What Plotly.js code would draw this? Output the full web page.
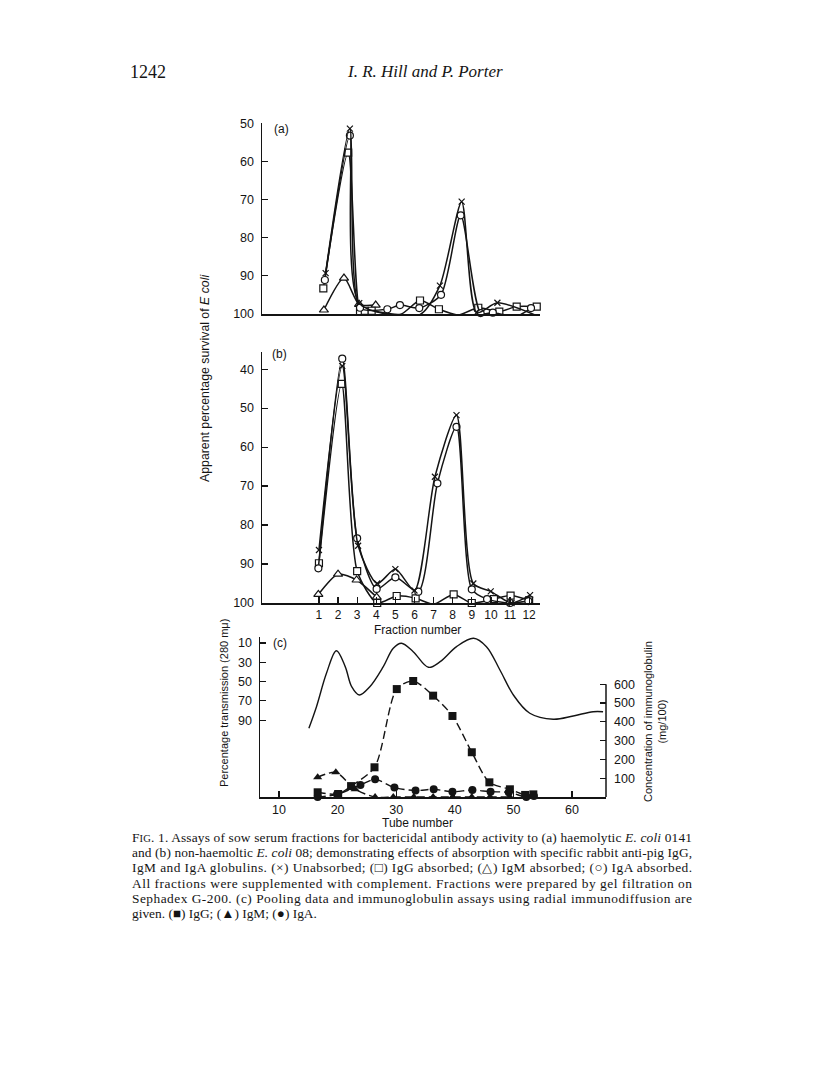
<!DOCTYPE html>
<html>
<head>
<meta charset="utf-8">
<script src="https://cdn.plot.ly/plotly-3.0.1.min.js"></script>
<style>
  body { margin: 0; background: #fff; }
  #fig { width: 816px; height: 1085px; }
</style>
</head>
<body>
<div id="fig"></div>
<script>
// ---- panel (a): haemolytic E. coli 0141, fraction number vs % survival
var aUnabsX = [1.35, 2.62, 3.11, 6.25, 7.33, 8.47, 9.25, 10.34, 12.4];
var aUnabsY = [89.4, 51.4, 97.3, 100.4, 92.7, 70.6, 99.8, 97.2, 100.6];
var aIgaX = [1.31, 2.62, 3.15, 4.58, 5.24, 6.25, 7.39, 8.42, 9.46, 10.1, 11.35, 12.1];
var aIgaY = [91.2, 53.2, 98.5, 98.9, 97.8, 98.6, 95.1, 74.2, 99.9, 99.8, 100.7, 98.6];
var aIggX = [1.23, 2.53, 3.15, 3.4, 3.76, 5.28, 6.29, 7.28, 8.3, 9.34, 10.44, 11.35, 12.4];
var aIggY = [93.4, 57.7, 99.5, 99.3, 99.3, 100.2, 96.6, 98.9, 100.4, 98.5, 99.5, 98.2, 98.2];
var aIgmX = [1.26, 2.31, 3.1, 3.97];
var aIgmY = [99.1, 90.7, 97.6, 97.8];

// ---- panel (b): non-haemolytic E. coli 08
var bUnabsX = [1.0, 2.22, 3.05, 4.05, 5.0, 6.0, 7.07, 8.2, 9.08, 9.99, 11.08, 12.05];
var bUnabsY = [86.4, 39.2, 85.3, 95, 91.3, 96.8, 67.6, 51.8, 95, 97, 100, 98];
var bIgaX = [0.97, 2.22, 3.0, 4.02, 5.0, 6.2, 7.2, 8.2, 9.0, 9.8, 11.0, 11.96];
var bIgaY = [91.1, 37.3, 83.4, 96.4, 93.4, 97.1, 69.3, 54.8, 96.5, 99, 100, 99.5];
var bIggX = [1.0, 2.19, 3.0, 4.05, 5.07, 6.06, 7.0, 8.05, 9.0, 10.16, 11.03, 12.0];
var bIggY = [89.8, 43.8, 91.8, 100, 98.2, 98.8, 100.3, 97.8, 100, 99, 98.1, 99.3];
var bIgmX = [0.97, 2.0, 2.97, 4.02];
var bIgmY = [97.8, 92.6, 94.1, 98.5];

// ---- panel (c): tube number, transmission (left) and immunoglobulin (right)
var tubeX = [15.1, 16.4, 18.1, 19.8, 21.3, 22.4, 23.7, 25.5, 27.8, 29.5, 30.9, 32.9, 35.5,
             37.5, 40.3, 43.2, 45.4, 47.7, 50, 52.8, 56.8, 60.2, 63.6, 65.3];
var transY = [98.4, 76, 41.4, 18, 34.5, 55.3, 63.9, 55.3, 34.5, 15.5, 10.3, 19, 35.2,
              29.4, 13.8, 5.1, 13.8, 38, 63.9, 82.8, 89, 85.6, 81.2, 81.2];
var iggX = [16.6, 20.1, 22.3, 26.3, 30.1, 32.9, 36.3, 39.6, 42.9, 45.9, 49.4, 52, 53.4];
var iggY = [25, 16, 58, 158, 574, 617, 539, 431, 238, 78, 41, 11, 14];
var igmX = [16.6, 19.7, 23, 26.4, 29.5, 33, 36.3, 39.6, 42.9, 46, 49.4];
var igmY = [105, 131, 41, 0, 0, 0, 0, 0, 0, 0, 0];
var igaX = [16.6, 19.9, 23.9, 26.4, 29.7, 33.3, 36.4, 39.6, 43, 46.1, 49.2, 52.2, 53.5];
var igaY = [0, 14, 64, 94, 50, 34, 41, 28, 37, 28, 25, 0, 5];

var fractionTicks = [1, 2, 3, 4, 5, 6, 7, 8, 9, 10, 11, 12];
var tubeTicks = [10, 20, 30, 40, 50, 60];

var ink = '#141414';
var W = 816, H = 1085;
function px(x) { return x / W; }
function py(y) { return 1 - y / H; }

function openSeries(x, y, sym, xa, ya, sz) {
  var cross = sym.indexOf('x-') === 0;
  return {
    x: x, y: y, xaxis: xa, yaxis: ya, type: 'scatter', mode: 'lines+markers',
    line: { color: ink, width: 1.5, shape: 'spline', smoothing: 0.7 },
    marker: { symbol: sym, size: sz || 7, color: cross ? ink : '#fff', line: { color: ink, width: 1.2 } },
    cliponaxis: false, showlegend: false, hoverinfo: 'skip'
  };
}
function filledSeries(x, y, sym, sz) {
  return {
    x: x, y: y, xaxis: 'x3', yaxis: 'y4', type: 'scatter', mode: 'lines+markers',
    line: { color: ink, width: 1.4, shape: 'spline', smoothing: 0.8, dash: '8px,4px' },
    marker: { symbol: sym, size: sz || 8, color: ink },
    cliponaxis: false, showlegend: false, hoverinfo: 'skip'
  };
}

var data = [
  openSeries(aIgmX, aIgmY, 'triangle-up', 'x', 'y', 8),
  openSeries(aIggX, aIggY, 'square', 'x', 'y'),
  openSeries(aIgaX, aIgaY, 'circle', 'x', 'y'),
  openSeries(aUnabsX, aUnabsY, 'x-thin-open', 'x', 'y', 6),

  openSeries(bIgmX, bIgmY, 'triangle-up', 'x2', 'y2', 8),
  openSeries(bIggX, bIggY, 'square', 'x2', 'y2'),
  openSeries(bIgaX, bIgaY, 'circle', 'x2', 'y2'),
  openSeries(bUnabsX, bUnabsY, 'x-thin-open', 'x2', 'y2', 6),

  {
    x: tubeX, y: transY, xaxis: 'x3', yaxis: 'y3', type: 'scatter', mode: 'lines',
    line: { color: ink, width: 1.4, shape: 'spline', smoothing: 1 },
    cliponaxis: false, showlegend: false, hoverinfo: 'skip'
  },
  filledSeries(igmX, igmY, 'triangle-up', 8),
  filledSeries(igaX, igaY, 'circle', 8),
  filledSeries(iggX, iggY, 'square', 8)
];

var tickFont = { family: 'Liberation Sans, Arial, sans-serif', size: 12.5, color: ink };
var baseAxis = {
  showgrid: false, zeroline: false, showline: true, linecolor: ink, linewidth: 1.5,
  ticks: 'inside', ticklen: 6, tickwidth: 1.2, tickcolor: ink, tickfont: tickFont,
  ticklabelstandoff: 4, fixedrange: true
};
function ax(o) { return Object.assign({}, baseAxis, o); }

var serif = 'Liberation Serif, Times New Roman, serif';
var sans = 'Liberation Sans, Arial, sans-serif';

function note(text, x, y, o) {
  return Object.assign({
    text: text, xref: 'paper', yref: 'paper', x: px(x), y: py(y),
    showarrow: false, xanchor: 'center', yanchor: 'middle',
    font: { family: sans, size: 12, color: ink }
  }, o || {});
}

var caption = [
  'F<span style="font-size:10.5px">IG</span>. 1. Assays of sow serum fractions for bactericidal antibody activity to (a) haemolytic <i>E. coli</i> 0141',
  'and (b) non-haemoltic <i>E. coli</i> 08; demonstrating effects of absorption with specific rabbit anti-pig IgG,',
  'IgM and IgA globulins. (\u00d7) Unabsorbed; (\u25a1) IgG absorbed; (\u25b3) IgM absorbed; (\u25cb) IgA absorbed.',
  'All fractions were supplemented with complement. Fractions were prepared by gel filtration on',
  'Sephadex G-200. (c) Pooling data and immunoglobulin assays using radial immunodiffusion are',
  'given. (\u25a0) IgG; (\u25b2) IgM; (\u25cf) IgA.'
];
var captionY = [837, 852, 867, 883, 898, 913];

var annotations = [
  note('1242', 128, 72, { xanchor: 'left', font: { family: serif, size: 18, color: ink } }),
  note('<i>I. R. Hill and P. Porter</i>', 425, 72, { font: { family: serif, size: 17, color: ink } }),
  note('(a)', 281, 129, { font: { family: sans, size: 12, color: ink } }),
  note('(b)', 279, 354, { font: { family: sans, size: 12, color: ink } }),
  note('(c)', 280, 643, { font: { family: sans, size: 12, color: ink } }),
  note('Apparent percentage survival of <i>E coli</i>', 205, 378, { textangle: -90, font: { family: sans, size: 12.3, color: ink } }),
  note('Fraction number', 418, 630, { font: { family: sans, size: 12, color: ink } }),
  note('Tube number', 418, 823, { font: { family: sans, size: 12, color: ink } }),
  note('Percentage transmission (280 m\u03bc)', 224, 703, { textangle: -90, font: { family: sans, size: 11, color: ink } }),
  note('Concentration of immunoglobulin<br>(mg/100)', 655, 722, { textangle: -90, font: { family: sans, size: 11, color: ink } })
];
var captionStart = annotations.length;
caption.forEach(function (t, i) {
  annotations.push(note(t, 130, captionY[i], { xanchor: 'left', align: 'left', font: { family: serif, size: 13.4, color: ink } }));
});

var layout = {
  width: W, height: H,
  margin: { l: 0, r: 0, t: 0, b: 0 },
  paper_bgcolor: '#fff', plot_bgcolor: 'rgba(0,0,0,0)',
  showlegend: false,
  xaxis: ax({ domain: [px(262), px(540)], range: [-1.98, 12.57], anchor: 'y', ticks: '', showticklabels: false }),
  yaxis: ax({ domain: [py(314), py(123)], range: [100.15, 49.9], anchor: 'x', tickvals: [50, 60, 70, 80, 90, 100] }),
  xaxis2: ax({ domain: [px(262), px(540)], range: [-1.98, 12.57], anchor: 'y2', tickvals: fractionTicks,
               ticklabelstandoff: 0, tickfont: { family: sans, size: 12, color: ink } }),
  yaxis2: ax({ domain: [py(603), py(352)], range: [100, 35.6], anchor: 'x2', tickvals: [40, 50, 60, 70, 80, 90, 100] }),
  xaxis3: ax({ domain: [px(260), px(606)], range: [6.76, 65.8], anchor: 'y3', tickvals: tubeTicks, ticklabelstandoff: 0 }),
  yaxis3: ax({ domain: [py(797), py(637)], range: [169.6, 3.8], anchor: 'x3', tickvals: [10, 30, 50, 70, 90] }),
  yaxis4: ax({ domain: [py(797), py(637)], range: [0, 851], anchor: 'x3', overlaying: 'y3', side: 'right',
               showline: false, ticklabelstandoff: 7, tickvals: [100, 200, 300, 400, 500, 600] }),
  shapes: [
    // right axis line only spans 0-600
    { type: 'line', xref: 'x3 domain', yref: 'y4', x0: 1, x1: 1, y0: 0, y1: 600, line: { color: ink, width: 1.5 } }
  ],
  annotations: annotations
};

Plotly.newPlot('fig', data, layout, { staticPlot: true }).then(function (gd) {
  // justify the full caption lines to the text block width
  gd.querySelectorAll('g.annotation').forEach(function (g) {
    var i = +g.getAttribute('data-index');
    if (i >= captionStart && i < captionStart + caption.length - 1) {
      var t = g.querySelector('text.annotation-text');
      if (t) { t.setAttribute('textLength', 560); t.setAttribute('lengthAdjust', 'spacing'); }
    }
  });
});
</script>
</body>
</html>
